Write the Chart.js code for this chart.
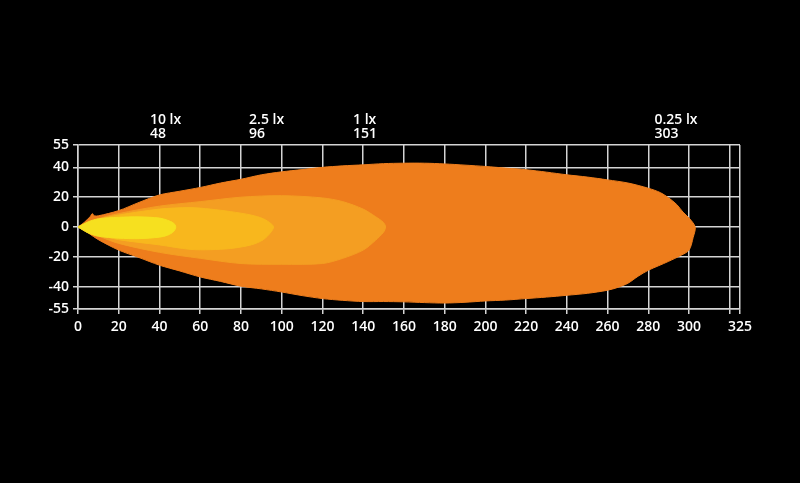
<!DOCTYPE html>
<html>
<head>
<meta charset="utf-8">
<style>
  html, body { margin: 0; padding: 0; background: #000; }
  #wrap { width: 800px; height: 483px; position: relative; background: #000; }
</style>
</head>
<body>
<div id="wrap">
  <canvas id="beamChart"></canvas>
</div>

<script src="https://cdn.jsdelivr.net/npm/chart.js@4.4.2/dist/chart.umd.min.js"></script>
<script>
// axis ticks (metres); 320 has a grid line but no label
const xTicks = [0, 20, 40, 60, 80, 100, 120, 140, 160, 180, 200, 220, 240, 260, 280, 300, 320, 325];
const xLabelled = [0, 20, 40, 60, 80, 100, 120, 140, 160, 180, 200, 220, 240, 260, 280, 300, 325];
const yTicks = [55, 40, 20, 0, -20, -40, -55];

// lux levels and reach distances shown above the plot
const luxLabels = ['10 lx', '2.5 lx', '1 lx', '0.25 lx'];
const luxReach = [48, 96, 151, 303];

// isolux contours: [distance, width]
const contour025 = [
  [0, 0], [3, 3], [6, 7], [7, 9], [8, 7.5], [10, 7.5], [20, 11], [30, 16.5], [40, 21.5], [50, 24],
  [60, 26.5], [70, 29.5], [80, 32], [90, 35], [100, 37], [110, 38.5], [120, 40], [130, 41],
  [140, 41.7], [150, 42.5], [160, 42.8], [170, 42.8], [180, 42.3], [190, 41.5], [200, 40.6],
  [210, 39.5], [220, 38.4], [230, 36.8], [240, 35], [250, 33.5], [260, 31.6], [270, 29.5],
  [280, 26], [286, 23], [290, 19.5], [294, 15], [297, 10], [300, 6], [303, 0],
  [302, -7], [300, -15.5], [296, -19], [290, -23], [285, -26], [280, -29], [275, -33],
  [270, -37.7], [265, -40.5], [260, -42.4], [250, -44.5], [240, -45.8], [230, -47],
  [220, -48], [210, -49], [200, -49.6], [190, -50.5], [180, -51], [170, -50.7], [160, -50.2],
  [150, -50], [140, -50], [130, -49.2], [120, -48], [110, -46], [100, -43.6], [90, -41.5],
  [80, -39.7], [70, -36.5], [60, -33.5], [50, -29.5], [40, -25.6], [30, -20.5], [20, -15.5],
  [10, -8.5], [5, -4], [0, 0]
];
const contour1 = [
  [0, 0], [10, 5.5], [20, 9], [40, 14], [60, 17], [80, 20], [100, 21], [120, 19.5],
  [130, 17], [140, 12], [146, 7], [150, 3], [151, 0],
  [150, -3.5], [146, -9], [140, -15.5], [130, -21], [120, -24.5], [100, -25], [80, -24.5],
  [60, -21], [40, -17], [20, -11], [10, -6], [0, 0]
];
const contour25 = [
  [0, 0], [10, 5], [20, 8], [40, 12], [55, 13], [65, 12], [75, 10.3], [85, 8], [91, 5.5],
  [95, 2], [96, 0],
  [95, -3], [91, -8.5], [85, -12], [75, -14.4], [65, -15.2], [55, -15], [40, -12], [20, -8.5],
  [10, -5], [0, 0]
];
const contour10 = [
  [0, 0], [5, 3.5], [10, 5.5], [20, 6.5], [30, 6.8], [40, 6], [44, 4.5], [47, 2.5], [48, 0],
  [47, -3], [44, -5.5], [40, -6.8], [30, -7.8], [20, -7.5], [10, -6.2], [5, -4], [0, 0]
];

// left edge of each label block, in metres
const labelLeft = [35.3, 84, 135, 283];

const gridColor = '#d4d4d4';
const tickFont = { family: 'Open Sans', size: 14, weight: '600' };

function toPoints(arr) {
  return arr.map(function(p) { return { x: p[0], y: p[1] }; });
}

function zone(data, color, order) {
  return {
    data: toPoints(data),
    showLine: true,
    fill: 'shape',
    backgroundColor: color,
    borderColor: color,
    borderWidth: 1,
    pointRadius: 0,
    tension: 0.3,
    order: order
  };
}

// reach labels on top of the plot
const luxLabelPlugin = {
  id: 'luxLabels',
  afterDraw(chart) {
    const c = chart.ctx;
    const xs = chart.scales.x;
    c.save();
    c.fillStyle = '#ffffff';
    c.font = '600 14px "Open Sans"';
    c.textAlign = 'left';
    c.textBaseline = 'middle';
    for (let i = 0; i < luxLabels.length; i++) {
      const px = xs.getPixelForValue(labelLeft[i]);
      c.fillText(luxLabels[i], px, 120);
      c.fillText(String(luxReach[i]), px, 134);
    }
    c.restore();
  }
};

const ctx = document.getElementById('beamChart');
const beamChart = new Chart(ctx, {
  type: 'scatter',
  data: {
    datasets: [
      zone(contour10, '#f6e01f', 0),
      zone(contour25, '#f8b71d', 1),
      zone(contour1, '#f49e22', 2),
      zone(contour025, '#ee7d1c', 3)
    ]
  },
  options: {
    responsive: true,
    maintainAspectRatio: false,
    animation: false,
    layout: { padding: { left: 0, right: 60, top: 145, bottom: 144 } },
    plugins: {
      legend: { display: false },
      tooltip: { enabled: false }
    },
    scales: {
      x: {
        type: 'linear',
        min: 0,
        max: 325,
        z: 1,
        afterBuildTicks(scale) { scale.ticks = xTicks.map(function(v) { return { value: v }; }); },
        afterFit(scale) { scale.height = 30; },
        grid: { color: gridColor, lineWidth: 1.5, tickLength: 5, tickColor: gridColor },
        border: { color: gridColor, width: 1.5 },
        ticks: {
          color: '#ffffff', font: tickFont, padding: 5, maxRotation: 0, autoSkip: false,
          callback: function(v) { return xLabelled.includes(v) ? String(v) : ''; }
        }
      },
      y: {
        type: 'linear',
        min: -55,
        max: 55,
        z: 1,
        afterBuildTicks(scale) { scale.ticks = yTicks.map(function(v) { return { value: v }; }); },
        afterFit(scale) { scale.width = 78; },
        grid: { color: gridColor, lineWidth: 1.5, tickLength: 5, tickColor: gridColor },
        border: { color: gridColor, width: 1.5 },
        ticks: { color: '#ffffff', font: tickFont, padding: 4, autoSkip: false }
      }
    }
  },
  plugins: [luxLabelPlugin]
});
</script>
</body>
</html>
